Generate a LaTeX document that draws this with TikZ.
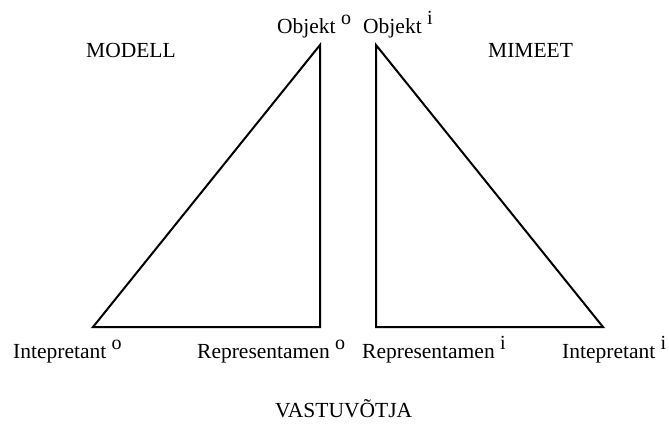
\documentclass[tikz,border=0pt]{standalone}
\usepackage{fontspec}
\setmainfont{Liberation Serif}
\newcommand{\hoch}[1]{\raisebox{9pt}{\fontsize{20}{20}\selectfont #1}}

\begin{document}
\begin{tikzpicture}[x=1pt,y=-1pt,
  lbl/.style={anchor=base west,inner sep=0pt,font=\fontsize{21.5}{25}\selectfont},
  side/.style={line width=2pt}]
\useasboundingbox (0,0) rectangle (669,428);

% Corners of the two triangles
\coordinate (objo) at (320,45);
\coordinate (into) at (93,327);
\coordinate (repo) at (320,327);
\coordinate (obji) at (376,45);
\coordinate (repi) at (376,327);
\coordinate (inti) at (603,327);

% Modell (left)
\draw[side] (objo) -- (into) -- (repo) -- cycle;
% Mimeet (right)
\draw[side] (obji) -- (repi) -- (inti) -- cycle;

% Titles
\node[lbl] (modell) at (86,58) {MODELL};
\node[lbl] (mimeet) at (488,58) {MIMEET};
\node[lbl] (vastu) at (275,417) {VASTUVÕTJA};

% Corner labels
\node[lbl] (lobjo) at (277,34) {Objekt \hoch{o}};
\node[lbl] (lobji) at (363,34) {Objekt \hoch{i}};
\node[lbl] (linto) at (13,358) {Intepretant \hoch{o}};
\node[lbl] (lrepo) at (197,358) {Representamen \hoch{o}};
\node[lbl] (lrepi) at (362,358) {Representamen \hoch{i}};
\node[lbl] (linti) at (562,358) {Intepretant \hoch{i}};
\end{tikzpicture}
\end{document}
